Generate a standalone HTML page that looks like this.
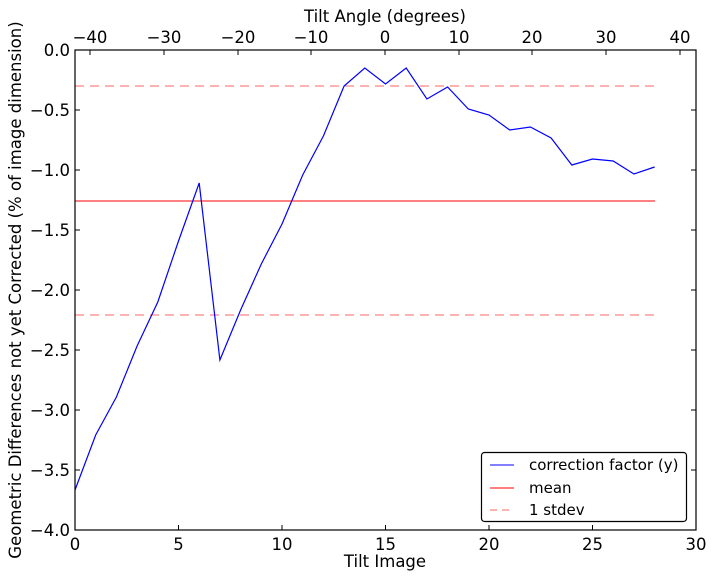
<!DOCTYPE html>
<html><head><style>body{margin:0;background:#fff}svg text{font-family:"DejaVu Sans","Liberation Sans",sans-serif;font-size:16.5px;fill:#000}svg text.lg{font-size:15px}</style></head><body>
<svg width="714" height="579" viewBox="0 0 714 579" xmlns="http://www.w3.org/2000/svg">
<rect width="714" height="579" fill="#fff"/>
<g stroke="#f00" stroke-width="1" fill="none">
<line x1="75" y1="201" x2="655" y2="201"/>
<line x1="75" y1="86" x2="655" y2="86" stroke="#f66" stroke-dasharray="9,6"/>
<line x1="75" y1="315" x2="655" y2="315" stroke="#f66" stroke-dasharray="9,6"/>
</g>
<polyline fill="none" stroke="#00f" stroke-width="1.2" points="75,490 95.7,435 116.4,397 137.1,346 157.8,302 178.5,241 199.2,183 219.9,360 240.6,310 261.3,264 282,224 302.7,175 323.4,136 344.1,86 364.8,68 385.5,84 406.2,68 426.9,99 447.6,87 468.3,109 489,115 509.7,130 530.4,127 551.1,138 571.8,165 592.5,159 613.2,161 633.9,174 654.6,167"/>
<rect x="75" y="50" width="621" height="480" fill="none" stroke="#000" stroke-width="1.2"/>
<g stroke="#000" stroke-width="1">
<line x1="178.5" y1="530" x2="178.5" y2="525"/><line x1="282" y1="530" x2="282" y2="525"/><line x1="385.5" y1="530" x2="385.5" y2="525"/><line x1="489" y1="530" x2="489" y2="525"/><line x1="592.5" y1="530" x2="592.5" y2="525"/>
<line x1="75" y1="110" x2="80" y2="110"/><line x1="75" y1="170" x2="80" y2="170"/><line x1="75" y1="230" x2="80" y2="230"/><line x1="75" y1="290" x2="80" y2="290"/><line x1="75" y1="350" x2="80" y2="350"/><line x1="75" y1="410" x2="80" y2="410"/><line x1="75" y1="470" x2="80" y2="470"/>
<line x1="696" y1="110" x2="691" y2="110"/><line x1="696" y1="170" x2="691" y2="170"/><line x1="696" y1="230" x2="691" y2="230"/><line x1="696" y1="290" x2="691" y2="290"/><line x1="696" y1="350" x2="691" y2="350"/><line x1="696" y1="410" x2="691" y2="410"/><line x1="696" y1="470" x2="691" y2="470"/>
<line x1="90" y1="50" x2="90" y2="55"/><line x1="164" y1="50" x2="164" y2="55"/><line x1="238" y1="50" x2="238" y2="55"/><line x1="311" y1="50" x2="311" y2="55"/><line x1="385" y1="50" x2="385" y2="55"/><line x1="459" y1="50" x2="459" y2="55"/><line x1="532" y1="50" x2="532" y2="55"/><line x1="606" y1="50" x2="606" y2="55"/><line x1="680" y1="50" x2="680" y2="55"/>
</g>
<g text-anchor="middle">
<text x="75" y="550">0</text><text x="178.5" y="550">5</text><text x="282" y="550">10</text><text x="385.5" y="550">15</text><text x="489" y="550">20</text><text x="592.5" y="550">25</text><text x="696" y="550">30</text>
<text x="385" y="567">Tilt Image</text>
<text x="90" y="43">−40</text><text x="164" y="43">−30</text><text x="238" y="43">−20</text><text x="311" y="43">−10</text><text x="385" y="43">0</text><text x="459" y="43">10</text><text x="532" y="43">20</text><text x="606" y="43">30</text><text x="680" y="43">40</text>
<text x="385" y="22">Tilt Angle (degrees)</text>
</g>
<g text-anchor="end">
<text x="70" y="56">0.0</text><text x="70" y="116">−0.5</text><text x="70" y="176">−1.0</text><text x="70" y="236">−1.5</text><text x="70" y="296">−2.0</text><text x="70" y="356">−2.5</text><text x="70" y="416">−3.0</text><text x="70" y="476">−3.5</text><text x="70" y="536">−4.0</text>
</g>
<text transform="translate(21,290) rotate(-90)" text-anchor="middle">Geometric Differences not yet Corrected (% of image dimension)</text>
<rect x="481.5" y="452.5" width="205" height="69" rx="3" fill="#fff" stroke="#000" stroke-width="1.2"/>
<line x1="490" y1="465" x2="514" y2="465" stroke="#00f"/>
<line x1="490" y1="488" x2="514" y2="488" stroke="#f00"/>
<line x1="490" y1="510" x2="514" y2="510" stroke="#f66" stroke-dasharray="7,5"/>
<text class="lg" x="529" y="470">correction factor (y)</text>
<text class="lg" x="529" y="493">mean</text>
<text class="lg" x="529" y="515">1 stdev</text>
</svg>
</body></html>
